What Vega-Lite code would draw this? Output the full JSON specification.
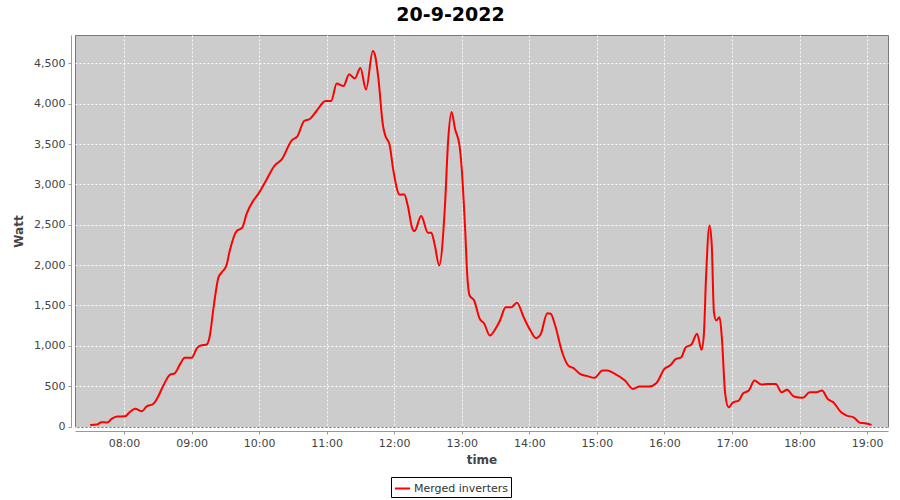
{
  "$schema": "https://vega.github.io/schema/vega-lite/v6.json",
  "width": 813,
  "height": 392,
  "autosize": "none",
  "padding": {"left": 75, "top": 35, "right": 12, "bottom": 73},
  "background": "white",
  "config": {
    "font": "DejaVu Sans",
    "view": {"fill": "#cccccc", "stroke": "#7a7a7a", "strokeWidth": 1}
  },
  "title": {
    "text": "20-9-2022",
    "font": "DejaVu Sans",
    "fontSize": 19,
    "fontWeight": "bold",
    "color": "#000000",
    "anchor": "middle",
    "dx": -31,
    "offset": 10
  },
  "data": {
    "values": [
      {"t": "2022-09-20T07:30:00Z", "w": 20, "s": "Merged inverters"},
      {"t": "2022-09-20T07:36:00Z", "w": 25, "s": "Merged inverters"},
      {"t": "2022-09-20T07:40:00Z", "w": 55, "s": "Merged inverters"},
      {"t": "2022-09-20T07:45:00Z", "w": 50, "s": "Merged inverters"},
      {"t": "2022-09-20T07:49:00Z", "w": 95, "s": "Merged inverters"},
      {"t": "2022-09-20T07:54:00Z", "w": 125, "s": "Merged inverters"},
      {"t": "2022-09-20T08:01:00Z", "w": 128, "s": "Merged inverters"},
      {"t": "2022-09-20T08:05:00Z", "w": 178, "s": "Merged inverters"},
      {"t": "2022-09-20T08:10:00Z", "w": 220, "s": "Merged inverters"},
      {"t": "2022-09-20T08:16:00Z", "w": 190, "s": "Merged inverters"},
      {"t": "2022-09-20T08:20:00Z", "w": 248, "s": "Merged inverters"},
      {"t": "2022-09-20T08:26:00Z", "w": 280, "s": "Merged inverters"},
      {"t": "2022-09-20T08:30:00Z", "w": 363, "s": "Merged inverters"},
      {"t": "2022-09-20T08:35:00Z", "w": 508, "s": "Merged inverters"},
      {"t": "2022-09-20T08:41:00Z", "w": 645, "s": "Merged inverters"},
      {"t": "2022-09-20T08:45:00Z", "w": 660, "s": "Merged inverters"},
      {"t": "2022-09-20T08:50:00Z", "w": 777, "s": "Merged inverters"},
      {"t": "2022-09-20T08:54:00Z", "w": 852, "s": "Merged inverters"},
      {"t": "2022-09-20T09:00:00Z", "w": 852, "s": "Merged inverters"},
      {"t": "2022-09-20T09:05:00Z", "w": 975, "s": "Merged inverters"},
      {"t": "2022-09-20T09:09:00Z", "w": 1008, "s": "Merged inverters"},
      {"t": "2022-09-20T09:13:00Z", "w": 1013, "s": "Merged inverters"},
      {"t": "2022-09-20T09:16:00Z", "w": 1107, "s": "Merged inverters"},
      {"t": "2022-09-20T09:20:00Z", "w": 1521, "s": "Merged inverters"},
      {"t": "2022-09-20T09:24:00Z", "w": 1851, "s": "Merged inverters"},
      {"t": "2022-09-20T09:27:00Z", "w": 1913, "s": "Merged inverters"},
      {"t": "2022-09-20T09:31:00Z", "w": 1996, "s": "Merged inverters"},
      {"t": "2022-09-20T09:34:00Z", "w": 2180, "s": "Merged inverters"},
      {"t": "2022-09-20T09:40:00Z", "w": 2421, "s": "Merged inverters"},
      {"t": "2022-09-20T09:45:00Z", "w": 2463, "s": "Merged inverters"},
      {"t": "2022-09-20T09:49:00Z", "w": 2637, "s": "Merged inverters"},
      {"t": "2022-09-20T09:55:00Z", "w": 2802, "s": "Merged inverters"},
      {"t": "2022-09-20T09:59:00Z", "w": 2876, "s": "Merged inverters"},
      {"t": "2022-09-20T10:05:00Z", "w": 3016, "s": "Merged inverters"},
      {"t": "2022-09-20T10:14:00Z", "w": 3236, "s": "Merged inverters"},
      {"t": "2022-09-20T10:20:00Z", "w": 3306, "s": "Merged inverters"},
      {"t": "2022-09-20T10:29:00Z", "w": 3546, "s": "Merged inverters"},
      {"t": "2022-09-20T10:34:00Z", "w": 3595, "s": "Merged inverters"},
      {"t": "2022-09-20T10:40:00Z", "w": 3785, "s": "Merged inverters"},
      {"t": "2022-09-20T10:45:00Z", "w": 3810, "s": "Merged inverters"},
      {"t": "2022-09-20T10:51:00Z", "w": 3909, "s": "Merged inverters"},
      {"t": "2022-09-20T10:59:00Z", "w": 4033, "s": "Merged inverters"},
      {"t": "2022-09-20T11:04:00Z", "w": 4033, "s": "Merged inverters"},
      {"t": "2022-09-20T11:09:00Z", "w": 4248, "s": "Merged inverters"},
      {"t": "2022-09-20T11:15:00Z", "w": 4219, "s": "Merged inverters"},
      {"t": "2022-09-20T11:20:00Z", "w": 4364, "s": "Merged inverters"},
      {"t": "2022-09-20T11:25:00Z", "w": 4310, "s": "Merged inverters"},
      {"t": "2022-09-20T11:30:00Z", "w": 4442, "s": "Merged inverters"},
      {"t": "2022-09-20T11:35:00Z", "w": 4174, "s": "Merged inverters"},
      {"t": "2022-09-20T11:41:00Z", "w": 4653, "s": "Merged inverters"},
      {"t": "2022-09-20T11:43:00Z", "w": 4599, "s": "Merged inverters"},
      {"t": "2022-09-20T11:46:00Z", "w": 4310, "s": "Merged inverters"},
      {"t": "2022-09-20T11:50:00Z", "w": 3731, "s": "Merged inverters"},
      {"t": "2022-09-20T11:52:00Z", "w": 3608, "s": "Merged inverters"},
      {"t": "2022-09-20T11:56:00Z", "w": 3484, "s": "Merged inverters"},
      {"t": "2022-09-20T11:59:00Z", "w": 3194, "s": "Merged inverters"},
      {"t": "2022-09-20T12:05:00Z", "w": 2872, "s": "Merged inverters"},
      {"t": "2022-09-20T12:09:00Z", "w": 2876, "s": "Merged inverters"},
      {"t": "2022-09-20T12:12:00Z", "w": 2740, "s": "Merged inverters"},
      {"t": "2022-09-20T12:16:00Z", "w": 2459, "s": "Merged inverters"},
      {"t": "2022-09-20T12:18:00Z", "w": 2421, "s": "Merged inverters"},
      {"t": "2022-09-20T12:24:00Z", "w": 2607, "s": "Merged inverters"},
      {"t": "2022-09-20T12:30:00Z", "w": 2401, "s": "Merged inverters"},
      {"t": "2022-09-20T12:33:00Z", "w": 2401, "s": "Merged inverters"},
      {"t": "2022-09-20T12:36:00Z", "w": 2252, "s": "Merged inverters"},
      {"t": "2022-09-20T12:40:00Z", "w": 1996, "s": "Merged inverters"},
      {"t": "2022-09-20T12:45:00Z", "w": 2709, "s": "Merged inverters"},
      {"t": "2022-09-20T12:48:00Z", "w": 3560, "s": "Merged inverters"},
      {"t": "2022-09-20T12:51:00Z", "w": 3897, "s": "Merged inverters"},
      {"t": "2022-09-20T12:54:00Z", "w": 3690, "s": "Merged inverters"},
      {"t": "2022-09-20T12:58:00Z", "w": 3484, "s": "Merged inverters"},
      {"t": "2022-09-20T13:00:00Z", "w": 3194, "s": "Merged inverters"},
      {"t": "2022-09-20T13:03:00Z", "w": 2450, "s": "Merged inverters"},
      {"t": "2022-09-20T13:05:00Z", "w": 1851, "s": "Merged inverters"},
      {"t": "2022-09-20T13:07:00Z", "w": 1624, "s": "Merged inverters"},
      {"t": "2022-09-20T13:11:00Z", "w": 1562, "s": "Merged inverters"},
      {"t": "2022-09-20T13:16:00Z", "w": 1335, "s": "Merged inverters"},
      {"t": "2022-09-20T13:20:00Z", "w": 1273, "s": "Merged inverters"},
      {"t": "2022-09-20T13:25:00Z", "w": 1128, "s": "Merged inverters"},
      {"t": "2022-09-20T13:30:00Z", "w": 1211, "s": "Merged inverters"},
      {"t": "2022-09-20T13:34:00Z", "w": 1314, "s": "Merged inverters"},
      {"t": "2022-09-20T13:39:00Z", "w": 1479, "s": "Merged inverters"},
      {"t": "2022-09-20T13:44:00Z", "w": 1479, "s": "Merged inverters"},
      {"t": "2022-09-20T13:49:00Z", "w": 1533, "s": "Merged inverters"},
      {"t": "2022-09-20T13:55:00Z", "w": 1355, "s": "Merged inverters"},
      {"t": "2022-09-20T14:01:00Z", "w": 1190, "s": "Merged inverters"},
      {"t": "2022-09-20T14:06:00Z", "w": 1095, "s": "Merged inverters"},
      {"t": "2022-09-20T14:10:00Z", "w": 1140, "s": "Merged inverters"},
      {"t": "2022-09-20T14:16:00Z", "w": 1403, "s": "Merged inverters"},
      {"t": "2022-09-20T14:19:00Z", "w": 1397, "s": "Merged inverters"},
      {"t": "2022-09-20T14:23:00Z", "w": 1252, "s": "Merged inverters"},
      {"t": "2022-09-20T14:29:00Z", "w": 930, "s": "Merged inverters"},
      {"t": "2022-09-20T14:35:00Z", "w": 750, "s": "Merged inverters"},
      {"t": "2022-09-20T14:39:00Z", "w": 727, "s": "Merged inverters"},
      {"t": "2022-09-20T14:45:00Z", "w": 653, "s": "Merged inverters"},
      {"t": "2022-09-20T14:51:00Z", "w": 628, "s": "Merged inverters"},
      {"t": "2022-09-20T14:58:00Z", "w": 604, "s": "Merged inverters"},
      {"t": "2022-09-20T15:05:00Z", "w": 694, "s": "Merged inverters"},
      {"t": "2022-09-20T15:09:00Z", "w": 694, "s": "Merged inverters"},
      {"t": "2022-09-20T15:16:00Z", "w": 653, "s": "Merged inverters"},
      {"t": "2022-09-20T15:25:00Z", "w": 570, "s": "Merged inverters"},
      {"t": "2022-09-20T15:32:00Z", "w": 467, "s": "Merged inverters"},
      {"t": "2022-09-20T15:38:00Z", "w": 496, "s": "Merged inverters"},
      {"t": "2022-09-20T15:46:00Z", "w": 496, "s": "Merged inverters"},
      {"t": "2022-09-20T15:53:00Z", "w": 541, "s": "Merged inverters"},
      {"t": "2022-09-20T16:00:00Z", "w": 715, "s": "Merged inverters"},
      {"t": "2022-09-20T16:05:00Z", "w": 756, "s": "Merged inverters"},
      {"t": "2022-09-20T16:10:00Z", "w": 835, "s": "Merged inverters"},
      {"t": "2022-09-20T16:15:00Z", "w": 859, "s": "Merged inverters"},
      {"t": "2022-09-20T16:19:00Z", "w": 983, "s": "Merged inverters"},
      {"t": "2022-09-20T16:24:00Z", "w": 1017, "s": "Merged inverters"},
      {"t": "2022-09-20T16:29:00Z", "w": 1150, "s": "Merged inverters"},
      {"t": "2022-09-20T16:33:00Z", "w": 951, "s": "Merged inverters"},
      {"t": "2022-09-20T16:35:00Z", "w": 1128, "s": "Merged inverters"},
      {"t": "2022-09-20T16:37:00Z", "w": 1851, "s": "Merged inverters"},
      {"t": "2022-09-20T16:40:00Z", "w": 2492, "s": "Merged inverters"},
      {"t": "2022-09-20T16:42:00Z", "w": 2265, "s": "Merged inverters"},
      {"t": "2022-09-20T16:44:00Z", "w": 1417, "s": "Merged inverters"},
      {"t": "2022-09-20T16:46:00Z", "w": 1314, "s": "Merged inverters"},
      {"t": "2022-09-20T16:49:00Z", "w": 1355, "s": "Merged inverters"},
      {"t": "2022-09-20T16:51:00Z", "w": 1107, "s": "Merged inverters"},
      {"t": "2022-09-20T16:54:00Z", "w": 405, "s": "Merged inverters"},
      {"t": "2022-09-20T16:57:00Z", "w": 239, "s": "Merged inverters"},
      {"t": "2022-09-20T17:01:00Z", "w": 301, "s": "Merged inverters"},
      {"t": "2022-09-20T17:06:00Z", "w": 322, "s": "Merged inverters"},
      {"t": "2022-09-20T17:10:00Z", "w": 413, "s": "Merged inverters"},
      {"t": "2022-09-20T17:15:00Z", "w": 446, "s": "Merged inverters"},
      {"t": "2022-09-20T17:20:00Z", "w": 570, "s": "Merged inverters"},
      {"t": "2022-09-20T17:26:00Z", "w": 521, "s": "Merged inverters"},
      {"t": "2022-09-20T17:32:00Z", "w": 529, "s": "Merged inverters"},
      {"t": "2022-09-20T17:39:00Z", "w": 529, "s": "Merged inverters"},
      {"t": "2022-09-20T17:44:00Z", "w": 425, "s": "Merged inverters"},
      {"t": "2022-09-20T17:49:00Z", "w": 455, "s": "Merged inverters"},
      {"t": "2022-09-20T17:55:00Z", "w": 372, "s": "Merged inverters"},
      {"t": "2022-09-20T18:03:00Z", "w": 356, "s": "Merged inverters"},
      {"t": "2022-09-20T18:09:00Z", "w": 425, "s": "Merged inverters"},
      {"t": "2022-09-20T18:15:00Z", "w": 425, "s": "Merged inverters"},
      {"t": "2022-09-20T18:20:00Z", "w": 446, "s": "Merged inverters"},
      {"t": "2022-09-20T18:25:00Z", "w": 343, "s": "Merged inverters"},
      {"t": "2022-09-20T18:30:00Z", "w": 301, "s": "Merged inverters"},
      {"t": "2022-09-20T18:37:00Z", "w": 177, "s": "Merged inverters"},
      {"t": "2022-09-20T18:42:00Z", "w": 136, "s": "Merged inverters"},
      {"t": "2022-09-20T18:48:00Z", "w": 115, "s": "Merged inverters"},
      {"t": "2022-09-20T18:54:00Z", "w": 46, "s": "Merged inverters"},
      {"t": "2022-09-20T18:58:00Z", "w": 41, "s": "Merged inverters"},
      {"t": "2022-09-20T19:04:00Z", "w": 21, "s": "Merged inverters"}
    ]
  },
  "mark": {"type": "line", "interpolate": "monotone", "strokeWidth": 2, "clip": true},
  "encoding": {
    "x": {
      "field": "t",
      "type": "temporal",
      "scale": {
        "type": "utc",
        "domain": [
          {"year": 2022, "month": 9, "date": 20, "hours": 7, "minutes": 16, "seconds": 30, "utc": true},
          {"year": 2022, "month": 9, "date": 20, "hours": 19, "minutes": 18, "seconds": 36, "utc": true}
        ],
        "nice": false
      },
      "axis": {
        "title": "time",
        "titleFont": "DejaVu Sans",
        "titleFontSize": 12,
        "titleFontWeight": "bold",
        "titleColor": "#444444",
        "titlePadding": 6,
        "format": "%H:%M",
        "tickCount": "hour",
        "labelFont": "DejaVu Sans",
        "labelFontSize": 11,
        "labelColor": "#444444",
        "labelPadding": 3,
        "labelFlush": false,
        "offset": 4,
        "domainColor": "#999999",
        "tickColor": "#999999",
        "tickSize": 3,
        "grid": true,
        "gridColor": "#ffffff",
        "gridDash": [2, 2],
        "gridOpacity": 0.9
      }
    },
    "y": {
      "field": "w",
      "type": "quantitative",
      "scale": {"domain": [-5, 4850], "nice": false, "zero": false},
      "axis": {
        "title": "Watt",
        "titleFont": "DejaVu Sans",
        "titleFontSize": 12,
        "titleFontWeight": "bold",
        "titleColor": "#444444",
        "titlePadding": 8,
        "values": [0, 500, 1000, 1500, 2000, 2500, 3000, 3500, 4000, 4500],
        "format": ",d",
        "labelFont": "DejaVu Sans",
        "labelFontSize": 11,
        "labelColor": "#444444",
        "labelPadding": 3,
        "labelFlush": false,
        "offset": 4,
        "domainColor": "#999999",
        "tickColor": "#999999",
        "tickSize": 3,
        "grid": true,
        "gridColor": "#ffffff",
        "gridDash": [2, 2],
        "gridOpacity": 0.9
      }
    },
    "color": {
      "field": "s",
      "type": "nominal",
      "scale": {"range": ["#ff0000"]},
      "legend": {
        "title": null,
        "orient": "none",
        "legendX": 316,
        "legendY": 442,
        "direction": "horizontal",
        "strokeColor": "#000000",
        "fillColor": "#ffffff",
        "padding": 3,
        "symbolType": "stroke",
        "symbolStrokeWidth": 2,
        "symbolSize": 225,
        "labelFont": "DejaVu Sans",
        "labelFontSize": 11,
        "labelColor": "#333333",
        "labelOffset": 3
      }
    }
  }
}
